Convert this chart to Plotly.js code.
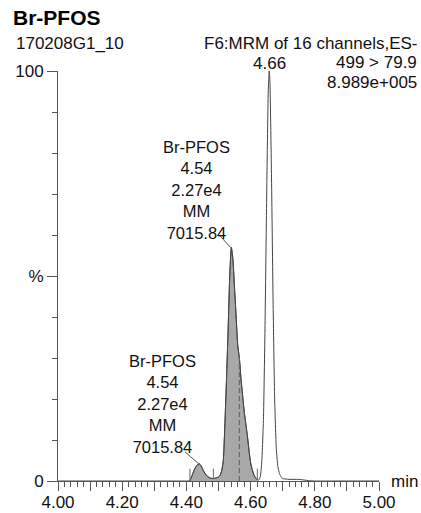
<!DOCTYPE html>
<html>
<head>
<meta charset="utf-8">
<script src="https://cdn.plot.ly/plotly-3.0.1.min.js"></script>
<style>html,body{margin:0;padding:0;background:#fff;}#chart{width:421px;height:513px;}</style>
</head>
<body>
<div id="chart"></div>
<script>
// Chromatogram: retention time (min) and relative intensity (%)
const times = [4.00, 4.10, 4.20, 4.30, 4.40, 4.405, 4.411, 4.415, 4.420, 4.425, 4.430, 4.435, 4.440, 4.445, 4.450, 4.455, 4.460, 4.465, 4.470, 4.475, 4.480, 4.485, 4.490, 4.495, 4.500, 4.505, 4.510, 4.515, 4.520, 4.525, 4.530, 4.535, 4.540, 4.545, 4.550, 4.555, 4.560, 4.565, 4.570, 4.575, 4.580, 4.585, 4.590, 4.595, 4.600, 4.605, 4.610, 4.615, 4.621, 4.625, 4.630, 4.635, 4.640, 4.645, 4.650, 4.655, 4.658, 4.660, 4.665, 4.670, 4.675, 4.680, 4.685, 4.690, 4.695, 4.700, 4.720, 4.750, 4.780, 4.800, 4.900, 5.000];
const intensities = [0, 0, 0, 0, 0, 0, 0.1, 0.8, 1.8, 2.8, 3.5, 4.0, 4.2, 3.8, 3.0, 2.2, 1.6, 1.2, 0.9, 0.7, 0.6, 0.6, 0.7, 0.8, 1.0, 1.4, 2.5, 5, 14, 25, 37, 50, 57, 54, 47, 40, 33, 30, 25, 21, 17, 14, 11, 7.5, 4.5, 2.8, 1.6, 0.8, 0.3, 0.2, 1, 5, 15, 38, 69, 95, 100, 98, 75, 44, 20, 8, 3.5, 1.8, 1, 0.6, 0.4, 0.4, 0.1, 0, 0, 0];

// Integration of Br-PFOS
const integStart = 4.411;
const integEnd = 4.621;
const integMarkTimes = [4.411, 4.484, 4.621];
const integMarkLow = [0, 0.6, 0.3];
const integMarkHigh = [3, 3, 3];
const dashTime = 4.565;
const dashTop = 30;

// Axis tick labels
const xTickVals = [4.0, 4.1, 4.2, 4.3, 4.4, 4.5, 4.6, 4.7, 4.8, 4.9, 5.0];
const xTickText = ['4.00', '', '4.20', '', '4.40', '', '4.60', '', '4.80', '', '5.00'];
const yTickVals = [0, 50, 100];
const yTickText = ['0', '%', '100'];

// Texts
const compound = 'Br-PFOS';
const sampleId = '170208G1_10';
const headerLines = ['F6:MRM of 16 channels,ES-', '499 > 79.9', '8.989e+005'];
const apexLabel = '4.66';
const peakLabel = ['Br-PFOS', '4.54', '2.27e4', 'MM', '7015.84'];

const shadedT = [], shadedI = [];
times.forEach((t, i) => { if (t >= integStart && t <= integEnd) { shadedT.push(t); shadedI.push(intensities[i]); } });

const FONT = 'Liberation Sans, Arial, sans-serif';
const AX = '#555555';
const LINE = '#444444';

const traces = [
  {x: shadedT, y: shadedI, type: 'scatter', mode: 'lines', fill: 'tozeroy', fillcolor: '#a8a8a8',
   line: {color: LINE, width: 1, shape: 'spline', smoothing: 0.5}, hoverinfo: 'skip'},
  {x: times, y: intensities, type: 'scatter', mode: 'lines',
   line: {color: LINE, width: 1, shape: 'spline', smoothing: 0.5}, hoverinfo: 'skip'}
];
integMarkTimes.forEach((t, i) => {
  traces.push({x: [t, t], y: [integMarkLow[i], integMarkHigh[i]], type: 'scatter', mode: 'lines',
    line: {color: '#666', width: 1}, hoverinfo: 'skip'});
});
traces.push({x: [dashTime, dashTime], y: [0, dashTop], type: 'scatter', mode: 'lines',
  line: {color: '#6a6a6a', width: 1.3, dash: '5px,3px'}, hoverinfo: 'skip'});

// pixel helpers for paper positions
const L = 58, R = 42, T = 71, B = 32, W = 421, H = 513;
const px = p => (p - L) / (W - L - R);
const py = p => (H - B - p) / (H - T - B);

const annotations = [
  {text: '<b>' + compound + '</b>', xref: 'paper', yref: 'paper', x: px(11), y: py(17.5), xanchor: 'left', yanchor: 'middle', showarrow: false, font: {family: FONT, size: 21, color: '#000'}},
  {text: sampleId, xref: 'paper', yref: 'paper', x: px(14), y: py(44), xanchor: 'left', yanchor: 'middle', showarrow: false, font: {family: FONT, size: 17, color: '#111'}},
  {text: headerLines[0], xref: 'paper', yref: 'paper', x: px(420), y: py(44), xanchor: 'right', yanchor: 'middle', showarrow: false, font: {family: FONT, size: 17, color: '#111'}},
  {text: headerLines[1], xref: 'paper', yref: 'paper', x: px(419), y: py(63), xanchor: 'right', yanchor: 'middle', showarrow: false, font: {family: FONT, size: 17, color: '#111'}},
  {text: headerLines[2], xref: 'paper', yref: 'paper', x: px(419), y: py(82), xanchor: 'right', yanchor: 'middle', showarrow: false, font: {family: FONT, size: 17, color: '#111'}},
  {text: apexLabel, xref: 'x', yref: 'paper', x: 4.658, y: py(64), xanchor: 'center', yanchor: 'middle', showarrow: false, font: {family: FONT, size: 17, color: '#111'}},
  {text: peakLabel.join('<br>'), xref: 'x', yref: 'y', x: 4.433, y: 71.0, xanchor: 'center', yanchor: 'middle', showarrow: false, align: 'center', font: {family: FONT, size: 16.5, color: '#111'}},
  {text: peakLabel.join('<br>'), xref: 'x', yref: 'y', x: 4.3255, y: 18.9, xanchor: 'center', yanchor: 'middle', showarrow: false, align: 'center', font: {family: FONT, size: 16.5, color: '#111'}},
  {text: 'min', xref: 'paper', yref: 'paper', x: 1, y: 0, xshift: 10, xanchor: 'left', yanchor: 'middle', showarrow: false, font: {family: FONT, size: 17, color: '#111'}}
];

const shapes = [
  {type: 'line', xref: 'x', yref: 'y', x0: 4.5047, y0: 59.8, x1: 4.537, y1: 57, line: {color: '#555', width: 1}},
  {type: 'line', xref: 'x', yref: 'y', x0: 4.3956, y0: 7.1, x1: 4.437, y1: 4.3, line: {color: '#555', width: 1}}
];

const layout = {
  width: W, height: H,
  margin: {l: L, r: R, t: T, b: B, pad: 0},
  paper_bgcolor: '#fff', plot_bgcolor: '#fff',
  showlegend: false,
  font: {family: FONT, size: 17, color: '#111'},
  xaxis: {range: [4, 5], showgrid: false, zeroline: false, showline: true, linecolor: AX, linewidth: 1,
    ticks: 'outside', tickvals: xTickVals, ticktext: xTickText, ticklen: 9, tickcolor: AX, tickwidth: 1,
    ticklabelstandoff: -3,
    tickfont: {family: FONT, size: 17, color: '#111'},
    minor: {dtick: 0.02, tick0: 4, ticks: 'outside', ticklen: 5, tickcolor: AX, tickwidth: 1}},
  yaxis: {range: [0, 100], showgrid: false, zeroline: false, showline: true, linecolor: AX, linewidth: 1,
    ticks: 'outside', tickvals: yTickVals, ticktext: yTickText, ticklen: 10, tickcolor: AX, tickwidth: 1,
    tickfont: {family: FONT, size: 17, color: '#111'},
    minor: {dtick: 10, tick0: 0, ticks: 'outside', ticklen: 5, tickcolor: AX, tickwidth: 1}},
  annotations: annotations,
  shapes: shapes
};

Plotly.newPlot('chart', traces, layout, {staticPlot: true, displayModeBar: false});
</script>
</body>
</html>
